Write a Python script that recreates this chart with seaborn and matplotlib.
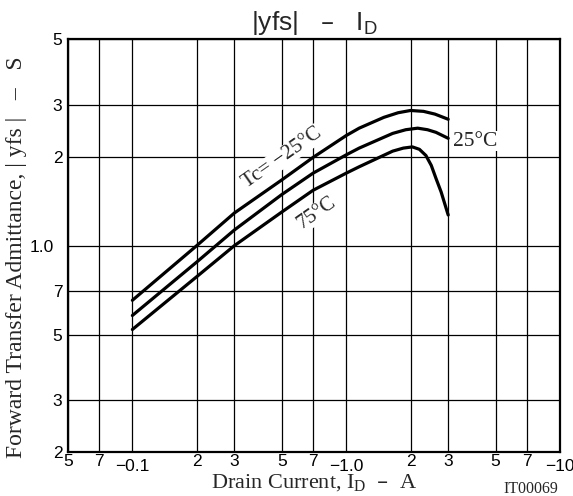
import matplotlib
matplotlib.use("Agg")
import matplotlib.pyplot as plt
import seaborn as sns
import pandas as pd

# ---- data (|yfs| in S vs -ID in A) ----
id_m25 = [0.1, 0.2, 0.3, 0.5, 0.7, 1.0, 1.15, 1.5, 1.75, 2.0, 2.3, 2.6, 3.0]
yfs_m25 = [0.653, 1.0, 1.29, 1.67, 1.99, 2.36, 2.50, 2.72, 2.82, 2.87, 2.85, 2.79, 2.68]

id_25 = [0.1, 0.2, 0.3, 0.5, 0.7, 1.0, 1.15, 1.65, 1.9, 2.16, 2.4, 2.63, 3.0]
yfs_25 = [0.58, 0.88, 1.13, 1.49, 1.76, 2.03, 2.14, 2.40, 2.47, 2.50, 2.47, 2.42, 2.31]

id_75 = [0.1, 0.2, 0.3, 0.5, 0.7, 1.0, 1.15, 1.65, 1.85, 2.04, 2.2, 2.36, 2.5, 2.63, 2.78, 3.0]
yfs_75 = [0.52, 0.785, 1.0, 1.30, 1.54, 1.76, 1.85, 2.09, 2.14, 2.16, 2.12, 2.02, 1.87, 1.69, 1.52, 1.27]

series_names = ["Tc=-25°C", "25°C", "75°C"]

x_major = [0.1, 1.0, 10.0]
x_major_labels = ["\u22120.1", "\u22121.0", "\u221210"]
x_minor = [0.05, 0.07, 0.2, 0.3, 0.5, 0.7, 2, 3, 5, 7]
x_minor_labels = ["5", "7", "2", "3", "5", "7", "2", "3", "5", "7"]
y_major = [1.0]
y_major_labels = ["1.0"]
y_minor = [0.2, 0.3, 0.5, 0.7, 2, 3, 5]
y_minor_labels = ["2", "3", "5", "7", "2", "3", "5"]

frames = []
for name, xs, ys in zip(series_names, [id_m25, id_25, id_75], [yfs_m25, yfs_25, yfs_75]):
    frames.append(pd.DataFrame({"ID": xs, "yfs": ys, "Tc": name}))
df = pd.concat(frames, ignore_index=True)

sns.set_style("white")
plt.rcParams["font.family"] = ["Liberation Sans", "DejaVu Sans"]

fig = plt.figure(figsize=(5.73, 4.96), dpi=100)
ax_h = 452 - 39.3
ax = fig.add_axes([68/573, 1-452/496, (560-68)/573, ax_h/496])

sns.lineplot(data=df, x="ID", y="yfs", hue="Tc", palette=["black"]*3,
             estimator=None, sort=False, linewidth=2.3, legend=False, ax=ax)

ax.set_xscale("log")
ax.set_yscale("log")
ax.set_xlim(0.05, 10)
ax.set_ylim(0.2, 5)

ax.set_xticks(x_major)
ax.set_xticklabels(x_major_labels)
ax.set_xticks(x_minor, minor=True)
ax.set_xticklabels(x_minor_labels, minor=True)
ax.set_yticks(y_major)
ax.set_yticklabels(y_major_labels)
ax.set_yticks(y_minor, minor=True)
ax.set_yticklabels(y_minor_labels, minor=True)

ax.tick_params(axis="both", which="both", length=0, labelsize=12.5, colors="black")
ax.tick_params(axis="x", which="major", pad=5)
ax.tick_params(axis="x", which="minor", pad=1.5)
ax.tick_params(axis="y", which="major", pad=10)
ax.tick_params(axis="y", which="minor", pad=4)

ax.grid(which="both", color="black", linewidth=0.9)
ax.set_axisbelow(True)
for s in ax.spines.values():
    s.set_color("black")
    s.set_linewidth(1.6)

serif = ["Liberation Serif", "DejaVu Serif"]
ax.set_xlabel("Drain Current, I$_\\mathregular{D}$  \u2013  A", family=serif, fontsize=16)
ax.xaxis.set_label_coords(0.5, -(473 - 452) / ax_h)
ax.set_ylabel("Forward Transfer Admittance, | yfs |   \u2013   S", family=serif, fontsize=17)
ax.yaxis.set_label_coords(-(68 - 27) / 492.0, 0.5 - 12 / ax_h)
ax.set_title("|yfs|   \u2013   I$_\\mathregular{D}$", fontsize=19, pad=7)

bbox = dict(facecolor="white", edgecolor="none", pad=0.5)
ax.text(0.50, 1.98, "Tc= \u221225\u00b0C", family=serif, fontsize=15, rotation=35,
        ha="center", va="center", rotation_mode="anchor", bbox=bbox)
ax.text(0.73, 1.29, "75\u00b0C", family=serif, fontsize=15, rotation=35,
        ha="center", va="center", rotation_mode="anchor", bbox=bbox)
ax.text(4.02, 2.26, "25\u00b0C", family=serif, fontsize=15.5,
        ha="center", va="center", bbox=bbox)

fig.text(531/573, 1-489/496, "IT00069", family=serif, fontsize=11.5, ha="center", va="center")

fig.savefig("out.png", dpi=100)
